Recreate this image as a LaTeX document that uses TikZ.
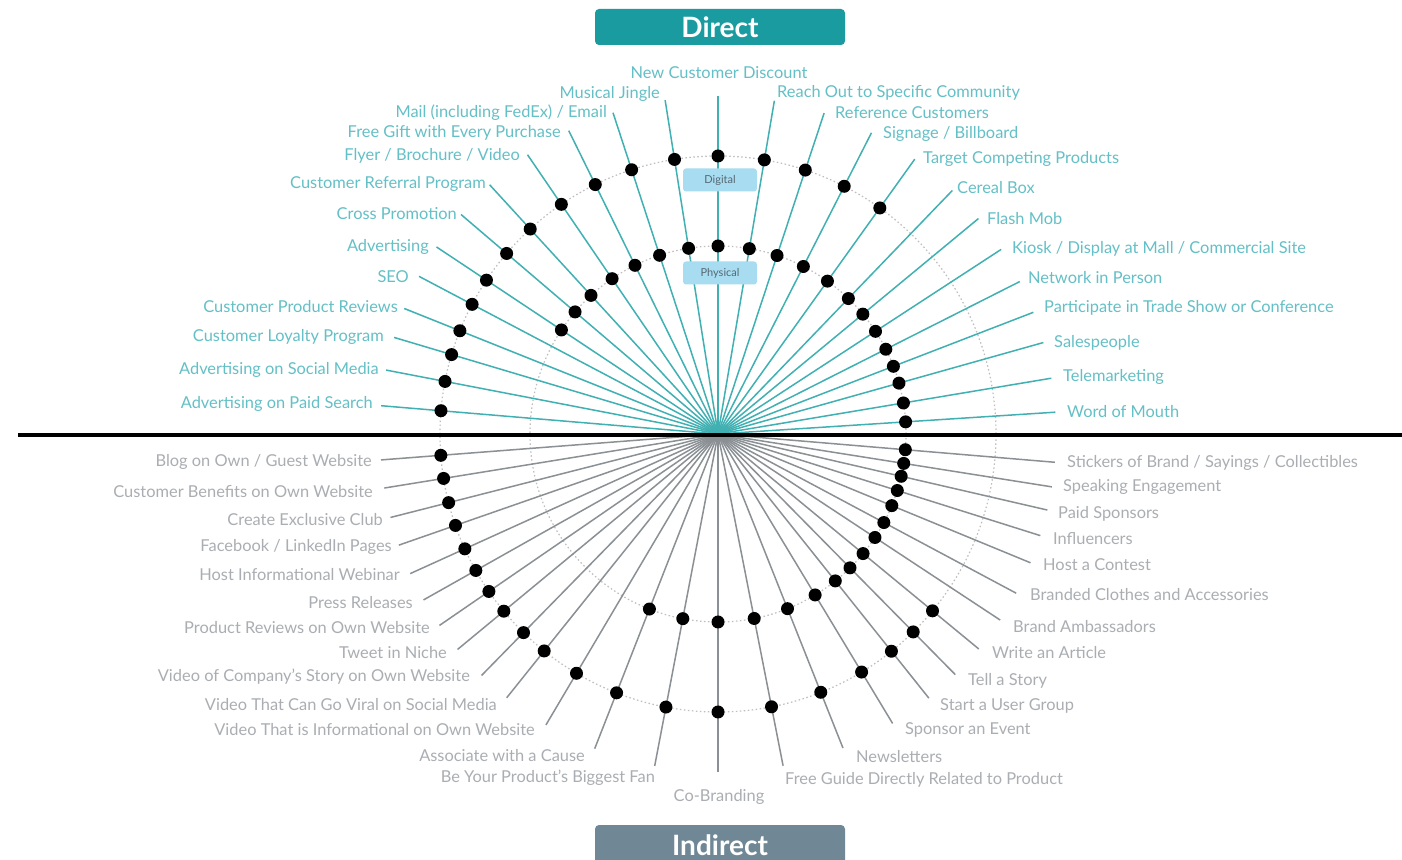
\documentclass[tikz,border=0pt]{standalone}
\usepackage{fontspec}
\setmainfont{Lato}
\usetikzlibrary{calc}
\definecolor{tealline}{RGB}{64,176,178}
\definecolor{tealtext}{RGB}{100,192,198}
\definecolor{greyline}{RGB}{138,144,148}
\definecolor{greytext}{RGB}{170,174,178}
\definecolor{directfill}{RGB}{26,155,160}
\definecolor{indirectfill}{RGB}{112,135,150}
\definecolor{tagblue}{RGB}{168,220,240}
\definecolor{tagtext}{RGB}{85,105,115}
\definecolor{ringgrey}{RGB}{190,190,190}
\tikzset{
  upline/.style={draw=tealline, line width=1.5pt},
  lowline/.style={draw=greyline, line width=1.5pt},
  uplab/.style={text=tealtext, inner sep=0pt, font=\fontsize{16.4}{19}\selectfont},
  lowlab/.style={text=greytext, inner sep=0pt, font=\fontsize{16.4}{19}\selectfont},
  dot/.style={circle, fill=black, minimum size=13pt, inner sep=0pt},
  ring/.style={draw=ringgrey, line width=1.2pt, dash pattern=on 1.5pt off 2.5pt},
  headbox/.style={rounded corners=4pt, minimum width=250pt, minimum height=36pt, text=white, inner sep=0pt, font=\fontsize{28}{30}\selectfont\bfseries},
  tagbox/.style={fill=tagblue, rounded corners=3pt, minimum width=74pt, minimum height=23pt, text=tagtext, font=\fontsize{11}{12}\selectfont, inner sep=0pt},
}
% #1 name, #2 angle, #3 outer dot, #4 inner dot, #5 group, #6 anchor, #7 label position, #8 text
\newcommand\chan[8]{%
  \path (C) ++(#2:338) coordinate (#1e);
  \draw[#5line] (C) -- (#1e);
  \ifnum#3=1 \node[dot] (#1o) at ($(C)+(#2:278)$) {};\fi
  \ifnum#4=1 \node[dot] (#1i) at ($(C)+(#2:188)$) {};\fi
  \node[#5lab, anchor=#6] (#1t) at (#7) {#8};
}
\begin{document}
\begin{tikzpicture}[x=1pt,y=1pt]
\useasboundingbox (0,0) rectangle (1402,859);
\fill[white] (0,0) rectangle (1402,859);
\coordinate (C) at (718,425);
\draw[ring] (C) circle[radius=278];
\draw[ring] (C) circle[radius=188];
% Direct (upper half)
\chan{a1}{175.2}{1}{0}{up}{east}{373,455}{Advertising on Paid Search}
\chan{a2}{169.1}{1}{0}{up}{east}{379,489}{Advertising on Social Media}
\chan{a3}{163.4}{1}{0}{up}{east}{384,522}{Customer Loyalty Program}
\chan{a4}{158.2}{1}{0}{up}{east}{398,552}{Customer Product Reviews}
\chan{a5}{152.2}{1}{0}{up}{east}{409,582}{SEO}
\chan{a6}{146.4}{1}{1}{up}{east}{429,612}{Advertising}
\chan{a7}{139.5}{1}{1}{up}{east}{457,645}{Cross Promotion}
\chan{a8}{132.5}{1}{1}{up}{east}{486,675}{Customer Referral Program}
\chan{a9}{124.3}{1}{1}{up}{east}{520,703}{Flyer / Brochure / Video}
\chan{a10}{116.2}{1}{1}{up}{east}{561,726}{Free Gift with Every Purchase}
\chan{a11}{108.1}{1}{1}{up}{east}{607,746}{Mail (including FedEx) / Email}
\chan{a12}{99.0}{1}{1}{up}{east}{660,765}{Musical Jingle}
\chan{a13}{90}{1}{1}{up}{center}{719,786}{New Customer Discount}
\chan{a14}{80.4}{1}{1}{up}{west}{777,766}{Reach Out to Specific Community}
\chan{a15}{71.7}{1}{1}{up}{west}{835,746}{Reference Customers}
\chan{a16}{63.0}{1}{1}{up}{west}{883,725}{Signage / Billboard}
\chan{a17}{54.4}{1}{1}{up}{west}{923,700}{Target Competing Products}
\chan{a18}{46.1}{0}{1}{up}{west}{957,671}{Cereal Box}
\chan{a19}{39.6}{0}{1}{up}{west}{987,640}{Flash Mob}
\chan{a20}{33.1}{0}{1}{up}{west}{1012,610}{Kiosk / Display at Mall / Commercial Site}
\chan{a21}{26.8}{0}{1}{up}{west}{1028,581}{Network in Person}
\chan{a22}{21.1}{0}{1}{up}{west}{1044,551}{Participate in Trade Show or Conference}
\chan{a23}{15.7}{0}{1}{up}{west}{1054,516}{Salespeople}
\chan{a24}{9.5}{0}{1}{up}{west}{1063,482}{Telemarketing}
\chan{a25}{3.7}{0}{1}{up}{west}{1067,447}{Word of Mouth}
% Indirect (lower half)
\chan{b1}{184.4}{1}{0}{low}{east}{372,397}{Blog on Own / Guest Website}
\chan{b2}{189.2}{1}{0}{low}{east}{373,367}{Customer Benefits on Own Website}
\chan{b3}{194.3}{1}{0}{low}{east}{383,339}{Create Exclusive Club}
\chan{b4}{199.2}{1}{0}{low}{east}{392,312}{Facebook / LinkedIn Pages}
\chan{b5}{204.4}{1}{0}{low}{east}{400,284}{Host Informational Webinar}
\chan{b6}{209.4}{1}{0}{low}{east}{413,256}{Press Releases}
\chan{b7}{214.5}{1}{0}{low}{east}{430,231}{Product Reviews on Own Website}
\chan{b8}{219.6}{1}{0}{low}{east}{447,206}{Tweet in Niche}
\chan{b9}{225.6}{1}{0}{low}{east}{470,182}{Video of Company's Story on Own Website}
\chan{b10}{231.3}{1}{0}{low}{east}{497,154}{Video That Can Go Viral on Social Media}
\chan{b11}{239.4}{1}{0}{low}{east}{535,129}{Video That is Informational on Own Website}
\chan{b12}{248.6}{1}{1}{low}{east}{585,103}{Associate with a Cause}
\chan{b13}{259.2}{1}{1}{low}{east}{655,81}{Be Your Product's Biggest Fan}
\chan{b14}{270}{1}{1}{low}{center}{719,62}{Co-Branding}
\chan{b15}{281.1}{1}{1}{low}{west}{785,79}{Free Guide Directly Related to Product}
\chan{b16}{291.7}{1}{1}{low}{west}{856,102}{Newsletters}
\chan{b17}{301.1}{1}{1}{low}{west}{905,129}{Sponsor an Event}
\chan{b18}{308.6}{1}{1}{low}{west}{940,153}{Start a User Group}
\chan{b19}{314.6}{1}{1}{low}{west}{968,178}{Tell a Story}
\chan{b20}{320.5}{1}{1}{low}{west}{992,206}{Write an Article}
\chan{b21}{326.6}{0}{1}{low}{west}{1013,232}{Brand Ambassadors}
\chan{b22}{331.9}{0}{1}{low}{west}{1030,264}{Branded Clothes and Accessories}
\chan{b23}{337.6}{0}{1}{low}{west}{1043,294}{Host a Contest}
\chan{b24}{342.5}{0}{1}{low}{west}{1053,320}{Influencers}
\chan{b25}{347.0}{0}{1}{low}{west}{1058,345}{Paid Sponsors}
\chan{b26}{351.0}{0}{1}{low}{west}{1063,372}{Speaking Engagement}
\chan{b27}{355.2}{0}{1}{low}{west}{1067,396}{Stickers of Brand / Sayings / Collectibles}
% ring tags
\node[tagbox] (digital) at (720,679) {Digital};
\node[tagbox] (physical) at (720,586) {Physical};
% divider
\coordinate (divL) at (18,424);
\coordinate (divR) at (1402,424);
\draw[black, line width=4pt] (divL) -- (divR);
% headers
\node[headbox, fill=directfill] (direct) at (720,832) {Direct};
\node[headbox, fill=indirectfill, minimum height=40pt] (indirect) at (720,14) {Indirect};
\end{tikzpicture}
\end{document}
